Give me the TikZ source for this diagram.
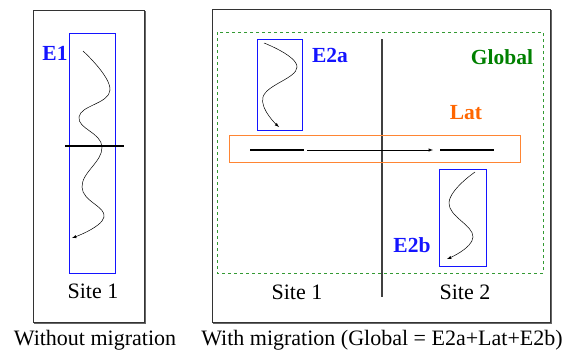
\documentclass[tikz,border=0pt]{standalone}
\usepackage{fontspec}
\setmainfont{Liberation Serif}
\usetikzlibrary{positioning}
\definecolor{eblue}{RGB}{20,20,255}
\definecolor{gdark}{RGB}{0,128,0}
\definecolor{latorange}{RGB}{255,102,0}
\tikzset{
  lbl/.style={inner sep=0pt, font=\fontsize{22}{26}\selectfont},
  blbl/.style={lbl, font=\fontsize{21.5}{26}\selectfont\bfseries},
  frame/.style={draw=black!80, line width=0.8pt},
  shadow/.style={draw=black!60, line width=1.6pt},
  ebox/.style={draw=eblue, line width=0.8pt},
  path/.style={-latex, line width=0.5pt},
  bar/.style={line width=2.4pt}
}
\begin{document}
\begin{tikzpicture}[x=1pt,y=-1pt]
        \useasboundingbox (0,0) rectangle (565,351);
        % without migration
        \draw[shadow] (145,11) -- (145,323) -- (34,323);
        \draw[frame] (33,10) rectangle (144,322);
        \draw[ebox] (69,33) rectangle (115,273);
        \node[blbl, text=eblue] (e1) at (55,53) {E1};
        \draw[bar] (65,146) coordinate (c1) -- (124,146) coordinate (c2);
        \draw[path] plot[smooth, tension=0.75] coordinates {(83,51) (110,90) (79,117) (102,147) (82,187) (104,217) (72,238)};
        \node[lbl] (site0) at (93,291) {Site 1};
        \node[lbl] (cap1) at (95,340) {Without migration};
        % with migration
        \draw[shadow] (551,10) -- (551,323) -- (213,323);
        \draw[frame] (212,9) rectangle (550,322);
        \draw[gdark!80, dashed, line width=0.7pt] (217,32) rectangle (543,273);
        \node[blbl, text=gdark] (glob) at (502,57) {Global};
        \draw[black!75, line width=1.1pt] (382,39) coordinate (top) -- (382,297) coordinate (bot);
        \draw[ebox] (257,39) rectangle (302,130);
        \node[blbl, text=eblue] (e2a) at (330,55) {E2a};
        \draw[path] plot[smooth, tension=0.75] coordinates {(264,43) (297,67) (263,97) (279,127)};
        \draw[latorange!80, line width=0.8pt] (229,135) rectangle (520,162);
        \node[blbl, text=latorange] (lat) at (466,113) {Lat};
        \draw[bar] (250,150) coordinate (la) -- (304,150) coordinate (lb);
        \draw[bar] (440,150) coordinate (ra) -- (494,150) coordinate (rb);
        \draw[-latex, line width=0.5pt, shorten <=3pt, shorten >=7pt] (lb) -- (ra);
        \draw[ebox] (439,169) rectangle (486,266);
        \node[blbl, text=eblue] (e2b) at (412,245) {E2b};
        \draw[path] plot[smooth, tension=0.75] coordinates {(475,172) (449,203) (473,237) (447,259)};
        \node[lbl] (site1) at (297,292) {Site 1};
        \node[lbl] (site2) at (465,292) {Site 2};
        \node[lbl] (cap2) at (382,340) {With migration (Global = E2a+Lat+E2b)};
      \end{tikzpicture}
\end{document}
